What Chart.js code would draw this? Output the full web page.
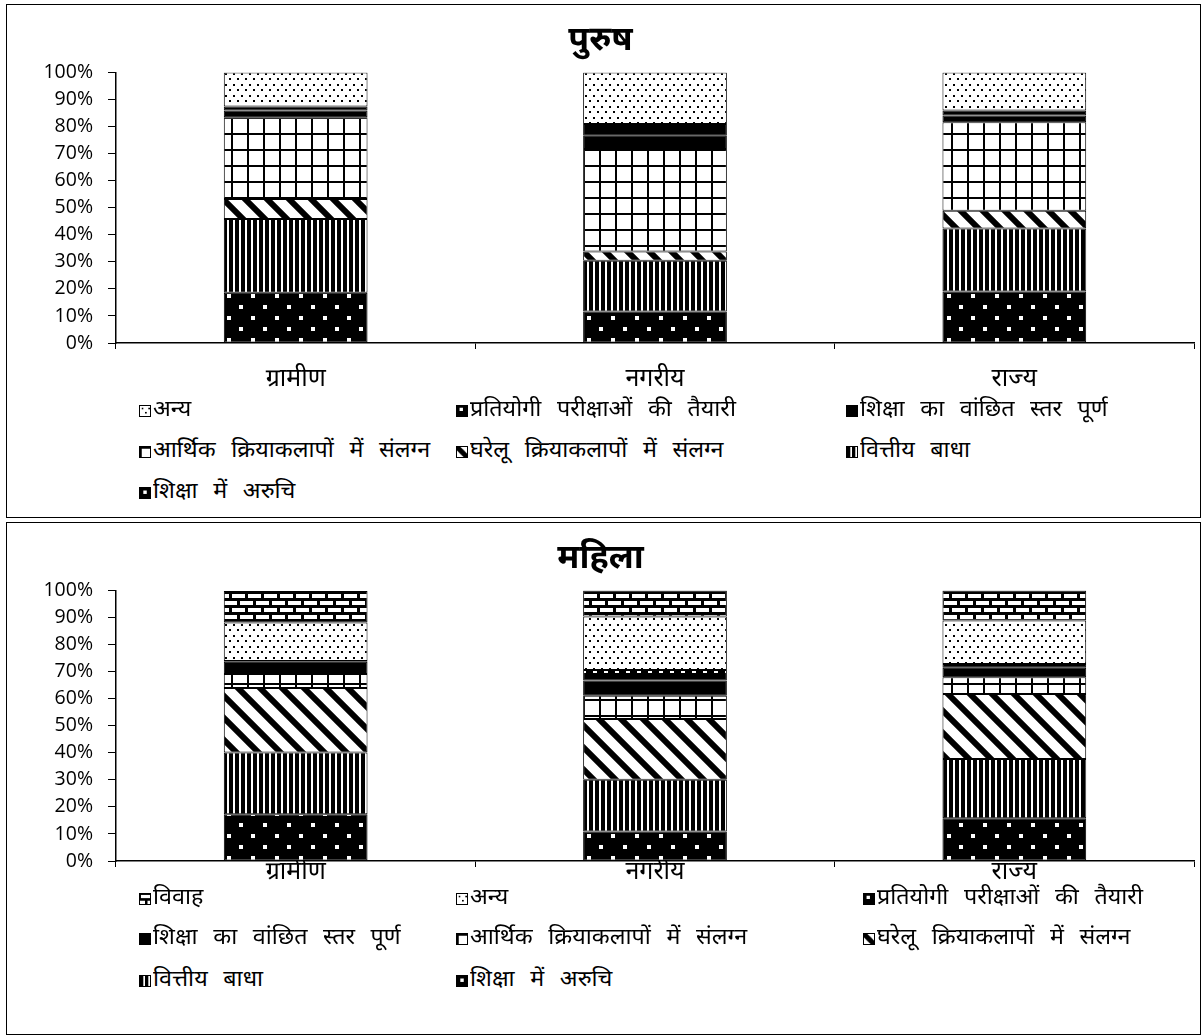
<!DOCTYPE html>
<html>
<head>
<meta charset="utf-8">
<script src="https://cdn.jsdelivr.net/npm/chart.js@4/dist/chart.umd.min.js"></script>
<style>
  html,body{margin:0;padding:0;background:#fff;}
  body{width:1202px;height:1036px;position:relative;overflow:hidden;font-family:"Noto Sans Devanagari","Lohit Devanagari","Noto Sans",sans-serif;}
  .box{position:absolute;border:1.5px solid #000;box-sizing:border-box;background:#fff;}
  .box canvas{position:absolute;left:0;top:0;}
  .leg{position:absolute;font-size:22px;line-height:26px;white-space:nowrap;color:#000;display:flex;align-items:center;}
  .leg span{display:inline-block;word-spacing:9px;transform:scaleX(1.06);transform-origin:left center;}
  .leg canvas{position:static;width:12px;height:12px;margin-right:2px;border:1px solid #000;box-sizing:border-box;}
</style>
</head>
<body>
<div class="box" id="box1" style="left:6px;top:4px;width:1195px;height:514px;"><canvas id="c1"></canvas></div>
<div class="box" id="box2" style="left:6px;top:522px;width:1195px;height:513px;"><canvas id="c2"></canvas></div>
<script>
// ---------- DATA ----------
const categories = ['ग्रामीण', 'नगरीय', 'राज्य'];
const yTicks = [0,10,20,30,40,50,60,70,80,90,100];

// पुरुष (male)
const maleTitle = 'पुरुष';
const maleDisinterest = [18.6, 11.6, 19.0];   // शिक्षा में अरुचि
const maleFinancial   = [27.2, 18.8, 23.3];   // वित्तीय बाधा
const maleDomestic    = [7.4, 3.4, 6.6];      // घरेलू क्रियाकलापों में संलग्न
const maleEconomic    = [30.2, 37.9, 32.7];   // आर्थिक क्रियाकलापों में संलग्न
const maleAttained    = [2.5, 4.9, 2.5];      // शिक्षा का वांछित स्तर पूर्ण
const maleCompetitive = [1.5, 4.3, 1.8];      // प्रतियोगी परीक्षाओं की तैयारी
const maleOther       = [12.6, 19.1, 14.1];   // अन्य

// महिला (female)
const femaleTitle = 'महिला';
const femaleDisinterest = [17.3, 10.9, 15.8];
const femaleFinancial   = [22.8, 19.1, 21.9];
const femaleDomestic    = [23.8, 22.5, 24.0];
const femaleEconomic    = [5.2, 8.6, 6.2];
const femaleAttained    = [4.5, 5.6, 3.5];
const femaleCompetitive = [0.3, 3.9, 1.4];
const femaleOther       = [14.2, 19.8, 16.1];
const femaleMarriage    = [11.7, 9.6, 11.1];   // विवाह

const L = {
  disinterest: 'शिक्षा में अरुचि',
  financial: 'वित्तीय बाधा',
  domestic: 'घरेलू क्रियाकलापों में संलग्न',
  economic: 'आर्थिक क्रियाकलापों में संलग्न',
  attained: 'शिक्षा का वांछित स्तर पूर्ण',
  competitive: 'प्रतियोगी परीक्षाओं की तैयारी',
  other: 'अन्य',
  marriage: 'विवाह'
};

// ---------- PATTERNS ----------
function tile(w, h, draw) {
  const c = document.createElement('canvas');
  c.width = w; c.height = h;
  const x = c.getContext('2d');
  draw(x, w, h);
  return c;
}
const tiles = {
  disinterest: tile(24, 22, (x,w,h)=>{ x.fillStyle='#000'; x.fillRect(0,0,w,h); x.fillStyle='#fff'; x.fillRect(4,3,4,4); x.fillRect(16,14,4,4); }),
  financial: tile(6, 6, (x,w,h)=>{ x.fillStyle='#000'; x.fillRect(0,0,w,h); x.fillStyle='#fff'; x.fillRect(4,0,2,h); }),
  domestic: tile(22, 22, (x,w,h)=>{ x.fillStyle='#fff'; x.fillRect(0,0,w,h); x.strokeStyle='#000'; x.lineWidth=6;
     x.beginPath(); x.moveTo(-5,-5); x.lineTo(w+5,h+5); x.moveTo(-5-w,-5); x.lineTo(5,h+5); x.moveTo(w-5,-5); x.lineTo(2*w+5,h+5); x.stroke(); }),
  economic: tile(16, 16, (x,w,h)=>{ x.fillStyle='#fff'; x.fillRect(0,0,w,h); x.fillStyle='#000'; x.fillRect(0,0,w,2); x.fillRect(0,0,2,h); }),
  attained: tile(4, 4, (x,w,h)=>{ x.fillStyle='#000'; x.fillRect(0,0,w,h); }),
  competitive: tile(11, 16, (x,w,h)=>{ x.fillStyle='#000'; x.fillRect(0,0,w,h); x.fillStyle='#fff'; x.fillRect(3,2,4,4); }),
  other: tile(16, 11, (x,w,h)=>{ x.fillStyle='#fff'; x.fillRect(0,0,w,h); x.fillStyle='#000'; x.fillRect(2,2,2,2); x.fillRect(10,2,2,2); x.fillRect(6,7,2,2); x.fillRect(14,7,2,2); }),
  marriage: tile(32, 14, (x,w,h)=>{ x.fillStyle='#000'; x.fillRect(0,0,w,h); x.fillStyle='#fff';
     x.fillRect(1,1,13,4); x.fillRect(17,1,13,4); x.fillRect(9,8,13,4); x.fillRect(25,8,7,4); x.fillRect(0,8,6,4); })
};
const pctx = document.createElement('canvas').getContext('2d');
const pat = {};
for (const k in tiles) pat[k] = pctx.createPattern(tiles[k], 'repeat');

// ---------- CHART ----------
const devFont = '"Noto Sans Devanagari","Lohit Devanagari","Noto Sans",sans-serif';
const numFont = '"Open Sans","Liberation Sans",sans-serif';

function ds(key, data) {
  return { label: L[key], data: data, backgroundColor: pat[key], borderColor: '#000', borderWidth: 1, borderSkipped: false,
           barPercentage: 0.4, categoryPercentage: 1.0 };
}

function makeChart(id, boxId, title, datasets, xPad) {
  const box = document.getElementById(boxId);
  const cv = document.getElementById(id);
  const W = box.clientWidth, H = 400;
  cv.style.width = W + 'px'; cv.style.height = H + 'px';
  cv.width = W; cv.height = H;
  return new Chart(cv, {
    type: 'bar',
    data: { labels: categories, datasets: datasets },
    options: {
      responsive: false, animation: false, devicePixelRatio: 1,
      layout: { padding: { left: 0, right: 6, top: 0, bottom: 0 } },
      plugins: {
        legend: { display: false },
        tooltip: { enabled: false },
        title: { display: true, text: title, color: '#000', font: { family: devFont, size: 34, weight: 'bold', lineHeight: 1.1 }, padding: { top: 20, bottom: 10 } }
      },
      scales: {
        x: {
          stacked: true,
          grid: { display: true, drawOnChartArea: false, drawTicks: true, tickLength: 6, color: '#000', offset: true },
          border: { display: true, color: '#000', width: 1.5 },
          ticks: { color: '#000', font: { family: devFont, size: 25 }, padding: xPad, maxRotation: 0 },
          afterFit: s => { s.height = 62; }
        },
        y: {
          stacked: true, min: 0, max: 100,
          afterBuildTicks: s => { s.ticks = yTicks.map(v => ({ value: v })); },
          grid: { display: true, drawOnChartArea: false, drawTicks: true, tickLength: 8, color: '#000' },
          border: { display: true, color: '#000', width: 1.5 },
          ticks: { color: '#000', font: { family: numFont, size: 19.5 }, padding: 15, callback: v => v + '%' },
          afterFit: s => { s.width = 109; }
        }
      }
    }
  });
}

makeChart('c1', 'box1', maleTitle, [
  ds('disinterest', maleDisinterest),
  ds('financial', maleFinancial),
  ds('domestic', maleDomestic),
  ds('economic', maleEconomic),
  ds('attained', maleAttained),
  ds('competitive', maleCompetitive),
  ds('other', maleOther)
], 17);

makeChart('c2', 'box2', femaleTitle, [
  ds('disinterest', femaleDisinterest),
  ds('financial', femaleFinancial),
  ds('domestic', femaleDomestic),
  ds('economic', femaleEconomic),
  ds('attained', femaleAttained),
  ds('competitive', femaleCompetitive),
  ds('other', femaleOther),
  ds('marriage', femaleMarriage)
], -8);

// ---------- LEGENDS (HTML) ----------
function addLegend(boxId, items) {
  const box = document.getElementById(boxId);
  items.forEach(([key, x, y]) => {
    const d = document.createElement('div');
    d.className = 'leg';
    d.style.left = x + 'px'; d.style.top = (y - 13) + 'px';
    const sw = document.createElement('canvas');
    sw.width = 12; sw.height = 12;
    const sx = sw.getContext('2d');
    sx.fillStyle = pat[key]; sx.fillRect(0,0,12,12);
    d.appendChild(sw);
    const t = document.createElement('span');
    t.textContent = L[key];
    d.appendChild(t);
    box.appendChild(d);
  });
}
addLegend('box1', [
  ['other', 132, 406], ['competitive', 449, 406], ['attained', 839, 406],
  ['economic', 132, 447], ['domestic', 449, 447], ['financial', 839, 447],
  ['disinterest', 132, 488]
]);
addLegend('box2', [
  ['marriage', 132, 376], ['other', 449, 376], ['competitive', 856, 376],
  ['attained', 132, 416], ['economic', 449, 416], ['domestic', 856, 416],
  ['financial', 132, 458], ['disinterest', 449, 458]
]);
</script>
</body>
</html>
